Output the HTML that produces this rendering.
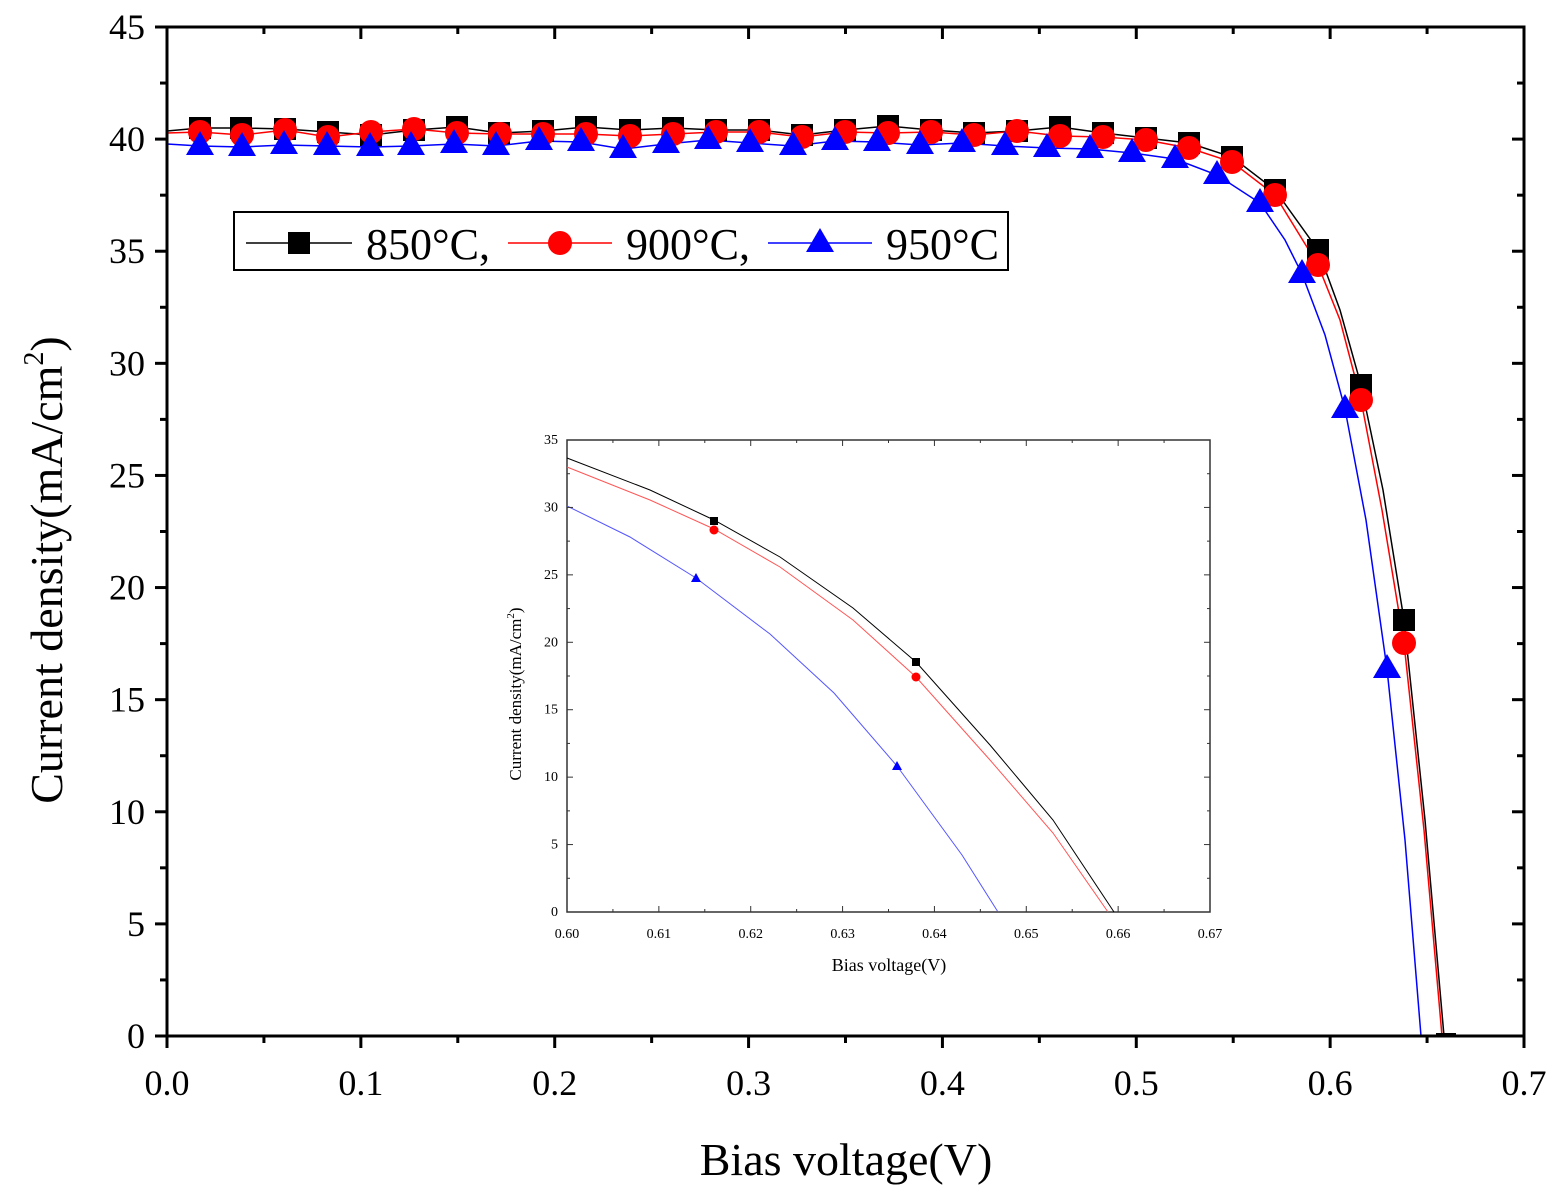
<!DOCTYPE html>
<html><head><meta charset="utf-8"><style>body{margin:0;background:#fff}svg{display:block}</style></head>
<body>
<svg id="s" width="1563" height="1201" xmlns="http://www.w3.org/2000/svg" font-family="Liberation Serif, serif">
<rect width="1563" height="1201" fill="#fff"/>
<g id="g"></g>
<text x="846" y="1175" font-size="46" text-anchor="middle">Bias voltage(V)</text>
<text transform="translate(62,570) rotate(-90)" font-size="46" text-anchor="middle">Current density(mA/cm<tspan dy="-19" font-size="28">2</tspan><tspan dy="19">)</tspan></text>
<text x="889" y="971" font-size="18" text-anchor="middle">Bias voltage(V)</text>
<text transform="translate(521,694) rotate(-90)" font-size="17" text-anchor="middle">Current density(mA/cm<tspan dy="-7" font-size="11">2</tspan><tspan dy="7">)</tspan></text>
<rect x="234" y="212" width="774" height="58" fill="#fff" stroke="#000" stroke-width="2"/>
<line x1="246" y1="243" x2="352" y2="243" stroke="#000" stroke-width="1.5"/>
<rect x="288" y="232" width="22" height="22" fill="#000"/>
<text x="366" y="259" font-size="44">850°C,</text>
<line x1="508" y1="243" x2="612" y2="243" stroke="#f00" stroke-width="1.5"/>
<circle cx="560" cy="243" r="12" fill="#f00"/>
<text x="626" y="259" font-size="44">900°C,</text>
<line x1="768" y1="243" x2="872" y2="243" stroke="#00f" stroke-width="1.5"/>
<polygon points="820,228 806,252 834,252" fill="#00f"/>
<text x="886" y="259" font-size="44">950°C</text>
</svg>
<script>
const g=document.getElementById('g');let h='';
const L=167,R=1524,T=27,B=1036;
const xs=v=>L+(R-L)*v/0.7, ys=v=>B-(B-T)*v/45;
const bk=[[167,131],[200,128],[241,128],[285,129],[328,132],[371,135],[414,130],[457,127],[499,133],[543,131],[586,127],[630,130],[673,128],[716,130],[759,130],[802,135],[845,130],[888,126],[931,130],[974,133],[1017,131],[1060,127],[1103,133],[1146,138],[1189,143],[1232,157],[1275,190],[1318,250],[1340,310],[1361,385],[1383,490],[1404,620],[1425,820],[1444,1036]];
const rd=[[167,133],[200,132],[242,135],[285,130],[328,137],[371,132],[414,129],[457,133],[500,134],[543,134],[586,134],[630,136],[673,134],[716,132],[759,132],[802,137],[845,132],[888,133],[931,132],[974,135],[1017,131],[1060,136],[1103,137],[1146,140],[1189,148],[1232,162],[1275,195],[1318,265],[1340,320],[1361,400],[1382,510],[1404,643],[1424,830],[1442,1036]];
const bl=[[167,144],[200,146],[242,147],[284,145],[327,146],[370,147],[411,146],[454,144],[496,146],[539,141],[581,142],[623,149],[666,144],[708,140],[750,143],[793,146],[835,141],[877,142],[920,145],[962,143],[1005,146],[1047,148],[1090,149],[1132,153],[1175,159],[1217,175],[1260,203],[1285,240],[1302,274],[1325,335],[1345,409],[1366,520],[1387,669],[1405,840],[1421,1036]];
const pl=(a,c)=>'<polyline fill="none" stroke="'+c+'" stroke-width="1.5" points="'+a.map(p=>p.join(',')).join(' ')+'"/>';
h+=pl(bk,'#000')+pl(rd,'#f00')+pl(bl,'#00f');
bk.forEach((p,i)=>{if(i>0&&i<bk.length-1&&![28,30,32].includes(i))h+=`<rect x="${p[0]-11}" y="${p[1]-11}" width="22" height="22" fill="#000"/>`});
h+='<rect x="1436" y="1033" width="20" height="4" fill="#000"/>';
rd.forEach((p,i)=>{if(i>0&&i<rd.length-1&&![28,30,32].includes(i))h+=`<circle cx="${p[0]}" cy="${p[1]}" r="12" fill="#f00"/>`});
bl.forEach((p,i)=>{if(i>0&&i<bl.length-1&&![27,29,31,33].includes(i))h+=`<polygon points="${p[0]},${p[1]-15} ${p[0]-14},${p[1]+9} ${p[0]+14},${p[1]+9}" fill="#00f"/>`});
h+=`<rect x="${L}" y="${T}" width="${R-L}" height="${B-T}" fill="none" stroke="#000" stroke-width="3"/>`;
for(let i=0;i<=14;i++){const x=xs(i*0.05),m=i%2==0,l=m?12:7;
h+=`<line x1="${x}" y1="${B}" x2="${x}" y2="${B+l}" stroke="#000" stroke-width="3"/><line x1="${x}" y1="${T}" x2="${x}" y2="${T+l}" stroke="#000" stroke-width="3"/>`;
if(m)h+=`<text x="${x}" y="${B+59}" font-size="36" text-anchor="middle">${(i*0.05).toFixed(1)}</text>`;}
for(let i=0;i<=18;i++){const y=ys(i*2.5),m=i%2==0,l=m?12:7;
h+=`<line x1="${L-l}" y1="${y}" x2="${L}" y2="${y}" stroke="#000" stroke-width="3"/><line x1="${R-l}" y1="${y}" x2="${R}" y2="${y}" stroke="#000" stroke-width="3"/>`;
if(m)h+=`<text x="${L-22}" y="${y+12}" font-size="36" text-anchor="end">${i*2.5}</text>`;}
const iL=567,iR=1210,iT=440,iB=912;
h+=`<rect x="${iL}" y="${iT}" width="${iR-iL}" height="${iB-iT}" fill="#fff" stroke="#333" stroke-width="1.5"/>`;
const ib=[[567,458],[650,490],[714,520],[780,557],[853,608],[916,662],[990,745],[1053,820],[1114,912]];
const ir=[[567,467],[650,500],[714,529],[780,567],[853,620],[916,677],[990,760],[1053,833],[1108,912]];
const iu=[[567,506],[630,537],[696,578],[770,634],[834,693],[897,766],[962,855],[998,912]];
const pi=(a,c)=>'<polyline fill="none" stroke="'+c+'" stroke-width="1" points="'+a.map(p=>p.join(',')).join(' ')+'"/>';
h+=pi(ib,'#000')+pi(ir,'#f55')+pi(iu,'#55f');
h+='<rect x="710" y="517" width="8" height="8" fill="#000"/><rect x="912" y="658" width="8" height="8" fill="#000"/>';
h+='<circle cx="714" cy="530" r="4.5" fill="#f00"/><circle cx="916" cy="677" r="4.5" fill="#f00"/>';
h+='<polygon points="696,573 691,582 701,582" fill="#00f"/><polygon points="897,761 892,770 902,770" fill="#00f"/>';
for(let i=0;i<=14;i++){const x=iL+(iR-iL)*i/14,m=i%2==0,l=m?6:3;
h+=`<line x1="${x}" y1="${iB}" x2="${x}" y2="${iB-l}" stroke="#333"/><line x1="${x}" y1="${iT}" x2="${x}" y2="${iT+l}" stroke="#333"/>`;
if(m)h+=`<text x="${x}" y="${iB+26}" font-size="14" text-anchor="middle">${(0.6+i*0.005).toFixed(2)}</text>`;}
for(let i=0;i<=14;i++){const y=iB-(iB-iT)*i/14,m=i%2==0,l=m?6:3;
h+=`<line x1="${iL}" y1="${y}" x2="${iL+l}" y2="${y}" stroke="#333"/><line x1="${iR-l}" y1="${y}" x2="${iR}" y2="${y}" stroke="#333"/>`;
if(m)h+=`<text x="${iL-9}" y="${y+4}" font-size="14" text-anchor="end">${i*2.5}</text>`;}
g.innerHTML=h;
</script>
</body></html>
